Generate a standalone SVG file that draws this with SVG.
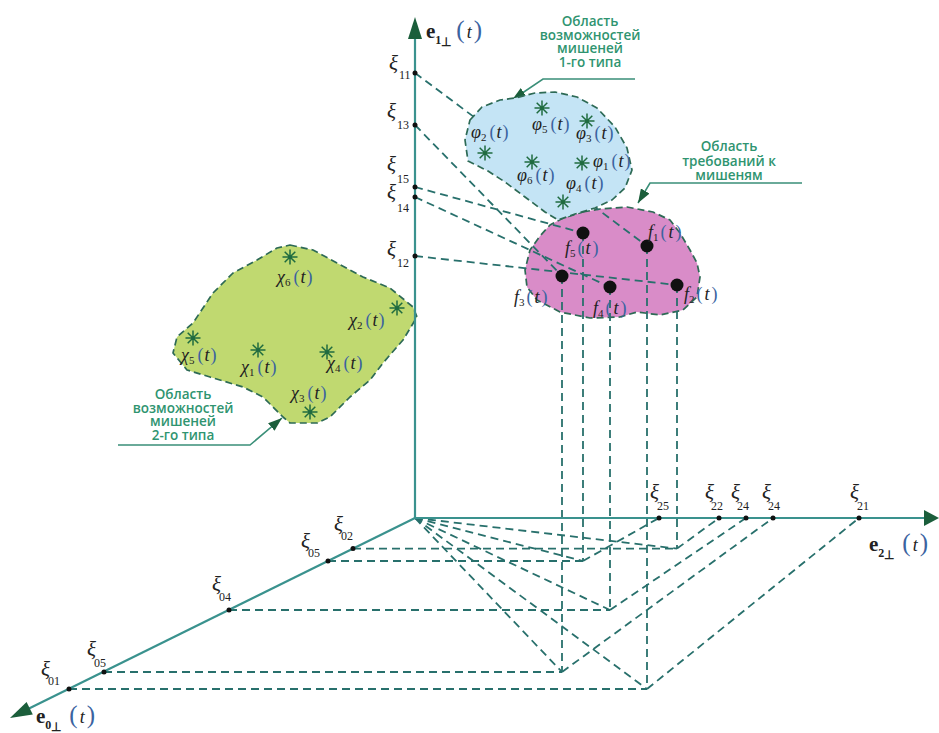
<svg xmlns="http://www.w3.org/2000/svg" width="939" height="733" viewBox="0 0 939 733">
<style>
.ln{fill:none;stroke:#28706c;stroke-width:1.8;stroke-dasharray:8 5}
.ax{fill:none;stroke:#3a928e;stroke-width:2.2}
.ah{fill:#1b5e3b}
.rg{stroke:#2d6a55;stroke-width:1.7;stroke-dasharray:7 4;stroke-linejoin:round}
.co{fill:none;stroke:#3a8f78;stroke-width:1.6}
.ct{font-family:'Open Sans',sans-serif;font-weight:600;font-size:13.5px;fill:#2f9470;text-anchor:middle}
.m{font-family:'Liberation Serif',serif;font-style:italic;font-weight:normal;fill:#222;font-size:18px}
.xi{font-family:'Liberation Serif',serif;font-style:italic;fill:#222;font-size:21px}
.sb{font-family:'Liberation Serif',serif;font-size:12px;fill:#222}
.s{font-size:11px;font-style:normal}
.p{fill:#3b63a0;font-style:normal}
.e{font-family:'Liberation Serif',serif;font-weight:bold;font-size:21px;fill:#222}
.dt{fill:#111}
.st{stroke:#1f6b3f;stroke-width:1.5;fill:none}
</style>
<defs>
<marker id="arr" viewBox="0 0 14 10" refX="14" refY="5" markerWidth="14" markerHeight="10" markerUnits="userSpaceOnUse" orient="auto">
<path d="M0,0 L14,5 L0,10 Z" fill="#1b5e3b"/>
</marker>
<path id="star" class="st" d="M0,-7.5V7.5M-7.5,0H7.5M-5.3,-5.3L5.3,5.3M-5.3,5.3L5.3,-5.3"/>
</defs>

<g id="region-pink">
<path class="rg" fill="#d98cc8" d="M583,212 L600,209 L627,207 L653,212 L670,220 L680,233 L690,250 L697,263 L700,277 L697,297 L683,310 L660,315 L637,312 L620,317 L590,318 L560,312 L537,300 L527,287 L525,270 L530,250 L540,236 L550,225 L563,218 Z"/>
</g>

<g id="region-green">
<path class="rg" fill="#c0d970" d="M290,245 L313,250 L337,263 L363,277 L390,288 L413,307 L417,317 L403,340 L383,363 L370,380 L350,397 L330,417 L317,423 L290,423 L283,417 L263,397 L243,387 L210,377 L187,370 L173,353 L177,337 L193,323 L213,293 L233,273 L257,260 L277,248 Z"/>
</g>

<g id="connectors">
<line class="ln" x1="415" y1="73" x2="647" y2="246"/>
<line class="ln" x1="415" y1="125" x2="562" y2="276"/>
<line class="ln" x1="415" y1="187" x2="583" y2="233"/>
<line class="ln" x1="415" y1="197" x2="610" y2="287"/>
<line class="ln" x1="415" y1="256" x2="677" y2="285"/>
<line class="ln" x1="677" y1="285" x2="677" y2="548.6"/>
<line class="ln" x1="583" y1="233" x2="583" y2="561"/>
<line class="ln" x1="610" y1="287" x2="610" y2="610"/>
<line class="ln" x1="562" y1="276" x2="562" y2="672"/>
<line class="ln" x1="647" y1="246" x2="647" y2="689"/>
<line class="ln" x1="353" y1="548.6" x2="677" y2="548.6"/>
<line class="ln" x1="328" y1="561" x2="583" y2="561"/>
<line class="ln" x1="229" y1="610" x2="610" y2="610"/>
<line class="ln" x1="104" y1="672" x2="562" y2="672"/>
<line class="ln" x1="69" y1="689" x2="647" y2="689"/>
<line class="ln" x1="415" y1="518" x2="677" y2="548.6"/>
<line class="ln" x1="415" y1="518" x2="583" y2="561"/>
<line class="ln" x1="415" y1="518" x2="610" y2="610"/>
<line class="ln" x1="415" y1="518" x2="562" y2="672"/>
<line class="ln" x1="415" y1="518" x2="647" y2="689"/>
<line class="ln" x1="677" y1="548.6" x2="719" y2="518"/>
<line class="ln" x1="583" y1="561" x2="659" y2="518"/>
<line class="ln" x1="610" y1="610" x2="746" y2="518"/>
<line class="ln" x1="562" y1="672" x2="773" y2="518"/>
<line class="ln" x1="647" y1="689" x2="859" y2="518"/>
<polyline class="co" points="635,79 543,79 512,100" marker-end="url(#arr)"/>
<polyline class="co" points="802,183 650,183 638,203" marker-end="url(#arr)"/>
<polyline class="co" points="118,445 250,445 282,418" marker-end="url(#arr)"/>
</g>

<g id="region-blue">
<path class="rg" fill="#c4e4f5" d="M470,120 L482,107 L500,100 L515,98 L535,93 L555,92 L577,97 L597,108 L615,127 L627,148 L632,170 L625,188 L612,200 L595,208 L575,214 L558,220 L545,212 L525,197 L505,182 L488,171 L468,161 L465,140 Z"/>
</g>

<g id="axes">
<line class="ax" x1="415" y1="518" x2="415" y2="36"/>
<polygon class="ah" points="415,17 408,39 422,39"/>
<line class="ax" x1="415" y1="518" x2="926" y2="518"/>
<polygon class="ah" points="939,518 924,510 924,526"/>
<line class="ax" x1="415" y1="518" x2="28" y2="709"/>
<polygon class="ah" points="10,718 26.6,701.9 32.8,714.5"/>
</g>

<g id="axis-labels">
<text class="e" x="426" y="38">e<tspan class="sb" dy="6">1</tspan><tspan class="sb" font-size="9" dy="2">⊥</tspan><tspan class="m" font-size="20" dx="5" dy="-8"><tspan class="p" font-size="25">(</tspan><tspan dx="2">t</tspan><tspan class="p" font-size="25" dx="2">)</tspan></tspan></text>
<text class="e" x="869" y="551">e<tspan class="sb" dy="6">2</tspan><tspan class="sb" font-size="9" dy="2">⊥</tspan><tspan class="m" font-size="20" dx="8" dy="-8"><tspan class="p" font-size="25">(</tspan><tspan dx="2">t</tspan><tspan class="p" font-size="25" dx="2">)</tspan></tspan></text>
<text class="e" x="36" y="723">e<tspan class="sb" dy="6">0</tspan><tspan class="sb" font-size="9" dy="2">⊥</tspan><tspan class="m" font-size="20" dx="8" dy="-8"><tspan class="p" font-size="25">(</tspan><tspan dx="2">t</tspan><tspan class="p" font-size="25" dx="2">)</tspan></tspan></text>
</g>

<g id="axis-points">
<circle class="dt" cx="415" cy="73" r="2.5"/>
<circle class="dt" cx="415" cy="125" r="2.5"/>
<circle class="dt" cx="415" cy="187" r="2.5"/>
<circle class="dt" cx="415" cy="197" r="2.5"/>
<circle class="dt" cx="415" cy="256" r="2.5"/>
<circle class="dt" cx="659" cy="518" r="2.5"/>
<circle class="dt" cx="719" cy="518" r="2.5"/>
<circle class="dt" cx="746" cy="518" r="2.5"/>
<circle class="dt" cx="773" cy="518" r="2.5"/>
<circle class="dt" cx="859" cy="518" r="2.5"/>
<circle class="dt" cx="353" cy="548.6" r="2.5"/>
<circle class="dt" cx="328" cy="561" r="2.5"/>
<circle class="dt" cx="229" cy="610" r="2.5"/>
<circle class="dt" cx="104" cy="672" r="2.5"/>
<circle class="dt" cx="69" cy="689" r="2.5"/>
<text class="xi" x="389" y="70">ξ</text><text class="sb" x="399" y="79">11</text>
<text class="xi" x="387" y="118">ξ</text><text class="sb" x="397" y="129">13</text>
<text class="xi" x="387" y="171">ξ</text><text class="sb" x="397" y="183">15</text>
<text class="xi" x="387" y="199">ξ</text><text class="sb" x="397" y="212">14</text>
<text class="xi" x="387" y="256">ξ</text><text class="sb" x="397" y="267">12</text>
<text class="xi" x="650" y="499">ξ</text><text class="sb" x="657" y="510">25</text>
<text class="xi" x="705" y="499">ξ</text><text class="sb" x="711" y="510">22</text>
<text class="xi" x="731" y="499">ξ</text><text class="sb" x="737" y="510">24</text>
<text class="xi" x="762" y="499">ξ</text><text class="sb" x="768" y="510">24</text>
<text class="xi" x="850" y="499">ξ</text><text class="sb" x="857" y="510">21</text>
<text class="xi" x="334" y="531">ξ</text><text class="sb" x="341" y="540">02</text>
<text class="xi" x="301" y="548">ξ</text><text class="sb" x="308" y="557">05</text>
<text class="xi" x="212" y="591">ξ</text><text class="sb" x="219" y="601">04</text>
<text class="xi" x="87" y="656">ξ</text><text class="sb" x="94" y="667">05</text>
<text class="xi" x="41" y="676">ξ</text><text class="sb" x="48" y="685">01</text>
</g>

<g id="targets-1">
<use href="#star" x="542" y="108"/>
<use href="#star" x="587" y="121"/>
<use href="#star" x="485" y="153"/>
<use href="#star" x="532" y="162"/>
<use href="#star" x="582" y="163"/>
<use href="#star" x="563" y="202"/>
<text class="m" x="471" y="138">φ<tspan class="s" dy="3">2</tspan><tspan class="p" dy="-3" dx="3">(</tspan><tspan dx="1">t</tspan><tspan class="p" dx="1">)</tspan></text>
<text class="m" x="532" y="130">φ<tspan class="s" dy="3">5</tspan><tspan class="p" dy="-3" dx="3">(</tspan><tspan dx="1">t</tspan><tspan class="p" dx="1">)</tspan></text>
<text class="m" x="576" y="139">φ<tspan class="s" dy="3">3</tspan><tspan class="p" dy="-3" dx="3">(</tspan><tspan dx="1">t</tspan><tspan class="p" dx="1">)</tspan></text>
<text class="m" x="593" y="167">φ<tspan class="s" dy="3">1</tspan><tspan class="p" dy="-3" dx="3">(</tspan><tspan dx="1">t</tspan><tspan class="p" dx="1">)</tspan></text>
<text class="m" x="517" y="181">φ<tspan class="s" dy="3">6</tspan><tspan class="p" dy="-3" dx="3">(</tspan><tspan dx="1">t</tspan><tspan class="p" dx="1">)</tspan></text>
<text class="m" x="566" y="189">φ<tspan class="s" dy="3">4</tspan><tspan class="p" dy="-3" dx="3">(</tspan><tspan dx="1">t</tspan><tspan class="p" dx="1">)</tspan></text>
</g>

<g id="targets-2">
<use href="#star" x="290" y="257"/>
<use href="#star" x="397" y="308"/>
<use href="#star" x="193" y="338"/>
<use href="#star" x="258" y="350"/>
<use href="#star" x="327" y="352"/>
<use href="#star" x="310" y="412"/>
<text class="m" x="277" y="283">χ<tspan class="s" dy="3">6</tspan><tspan class="p" dy="-3" dx="3">(</tspan><tspan dx="1">t</tspan><tspan class="p" dx="1">)</tspan></text>
<text class="m" x="349" y="326">χ<tspan class="s" dy="3">2</tspan><tspan class="p" dy="-3" dx="3">(</tspan><tspan dx="1">t</tspan><tspan class="p" dx="1">)</tspan></text>
<text class="m" x="181" y="361">χ<tspan class="s" dy="3">5</tspan><tspan class="p" dy="-3" dx="3">(</tspan><tspan dx="1">t</tspan><tspan class="p" dx="1">)</tspan></text>
<text class="m" x="241" y="373">χ<tspan class="s" dy="3">1</tspan><tspan class="p" dy="-3" dx="3">(</tspan><tspan dx="1">t</tspan><tspan class="p" dx="1">)</tspan></text>
<text class="m" x="327" y="369">χ<tspan class="s" dy="3">4</tspan><tspan class="p" dy="-3" dx="3">(</tspan><tspan dx="1">t</tspan><tspan class="p" dx="1">)</tspan></text>
<text class="m" x="291" y="399">χ<tspan class="s" dy="3">3</tspan><tspan class="p" dy="-3" dx="3">(</tspan><tspan dx="1">t</tspan><tspan class="p" dx="1">)</tspan></text>
</g>

<g id="requirements">
<circle class="dt" cx="647" cy="246" r="6.5"/>
<circle class="dt" cx="583" cy="233" r="6.5"/>
<circle class="dt" cx="562" cy="276" r="6.5"/>
<circle class="dt" cx="610" cy="287" r="6.5"/>
<circle class="dt" cx="677" cy="285" r="6.5"/>
<text class="m" x="648" y="238" font-size="19">f<tspan class="s" dy="3">1</tspan><tspan class="p" dy="-3" dx="2">(</tspan><tspan dx="2">t</tspan><tspan class="p" dx="2">)</tspan></text>
<text class="m" x="565" y="254" font-size="19">f<tspan class="s" dy="3">5</tspan><tspan class="p" dy="-3" dx="2">(</tspan><tspan dx="2">t</tspan><tspan class="p" dx="2">)</tspan></text>
<text class="m" x="514" y="303" font-size="19">f<tspan class="s" dy="3">3</tspan><tspan class="p" dy="-3" dx="2">(</tspan><tspan dx="2">t</tspan><tspan class="p" dx="2">)</tspan></text>
<text class="m" x="593" y="314" font-size="19">f<tspan class="s" dy="3">4</tspan><tspan class="p" dy="-3" dx="2">(</tspan><tspan dx="2">t</tspan><tspan class="p" dx="2">)</tspan></text>
<text class="m" x="684" y="300" font-size="19">f<tspan class="s" dy="3">2</tspan><tspan class="p" dy="-3" dx="2">(</tspan><tspan dx="2">t</tspan><tspan class="p" dx="2">)</tspan></text>
</g>

<g id="callout-1">
<text class="ct" x="590" y="26">Область</text>
<text class="ct" x="590" y="39.5">возможностей</text>
<text class="ct" x="590" y="53">мишеней</text>
<text class="ct" x="590" y="66.5">1-го типа</text>
</g>
<g id="callout-req">
<text class="ct" x="729" y="151">Область</text>
<text class="ct" x="729" y="165.5">требований к</text>
<text class="ct" x="729" y="180">мишеням</text>
</g>
<g id="callout-2">
<text class="ct" x="183" y="399">Область</text>
<text class="ct" x="183" y="412.5">возможностей</text>
<text class="ct" x="183" y="426">мишеней</text>
<text class="ct" x="183" y="439.5">2-го типа</text>
</g>
</svg>
